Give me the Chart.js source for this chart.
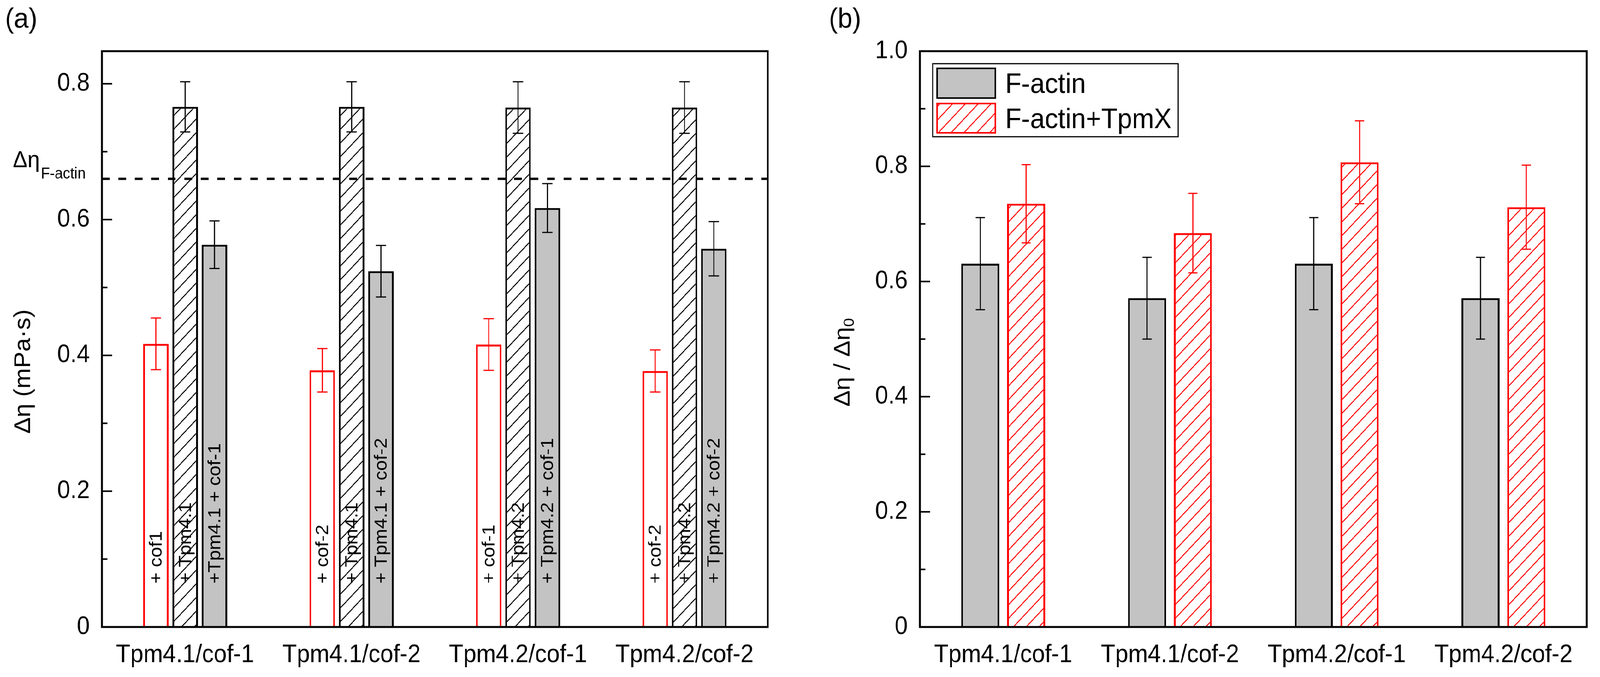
<!DOCTYPE html>
<html>
<head>
<meta charset="utf-8">
<script src="https://cdn.jsdelivr.net/npm/chart.js@4.4.1/dist/chart.umd.min.js"></script>
<style>
  html, body { margin: 0; padding: 0; background: #fff; overflow: hidden; }
  #wrap { position: relative; width: 4366px; height: 1733px; transform-origin: 0 0; }
  #ca { position: absolute; left: 0; top: 0; }
  #cb { position: absolute; left: 2200px; top: 0; }
</style>
</head>
<body>
<div id="wrap">
  <canvas id="ca" width="2200" height="1733"></canvas>
  <canvas id="cb" width="2166" height="1733"></canvas>
</div>
<script>
const FONT = "'Liberation Sans', Arial, sans-serif";

const groups = ["Tpm4.1/cof-1", "Tpm4.1/cof-2", "Tpm4.2/cof-1", "Tpm4.2/cof-2"];

// panel (a): delta eta in mPa.s
const cofOnly = [0.417, 0.378, 0.416, 0.377];
const cofOnlyErr = [0.038, 0.032, 0.038, 0.031];
const tpmOnly = [0.766, 0.766, 0.765, 0.765];
const tpmOnlyErr = [0.037, 0.037, 0.038, 0.038];
const tpmCof = [0.563, 0.524, 0.617, 0.557];
const tpmCofErr = [0.035, 0.038, 0.036, 0.040];
const cofLabels = ["+ cof1", "+ cof-2", "+ cof-1", "+ cof-2"];
const tpmLabels = ["+ Tpm4.1", "+ Tpm4.1", "+ Tpm4.2", "+ Tpm4.2"];
const tpmCofLabels = ["+Tpm4.1 + cof-1", "+ Tpm4.1 + cof-2", "+ Tpm4.2 + cof-1", "+ Tpm4.2 + cof-2"];
const fActinLevel = 0.66;
const maxA = 0.848;

// panel (b): normalised
const fActin = [0.631, 0.571, 0.631, 0.571];
const fActinErr = [0.080, 0.071, 0.080, 0.071];
const fActinTpm = [0.735, 0.684, 0.807, 0.729];
const fActinTpmErr = [0.068, 0.069, 0.072, 0.073];
const legendLabels = ["F-actin", "F-actin+TpmX"];
const maxB = 1.0;

const GRAY = "#c3c3c3";
const RED = "#ff0000";

// the drawing is laid out at 4366 x 1733; stretch it onto the real viewport
const sx = window.innerWidth / 4366;
const sy = window.innerHeight / 1733;
document.getElementById("wrap").style.transform = "scale(" + sx + "," + sy + ")";

function hatch(color, size, lw) {
  const c = document.createElement("canvas");
  c.width = c.height = size;
  const g = c.getContext("2d");
  g.fillStyle = "#fff";
  g.fillRect(0, 0, size, size);
  g.strokeStyle = color;
  g.lineWidth = lw;
  g.beginPath();
  g.moveTo(-1, size + 1); g.lineTo(size + 1, -1);
  g.moveTo(-2, 2); g.lineTo(2, -2);
  g.moveTo(size - 2, size + 2); g.lineTo(size + 2, size - 2);
  g.stroke();
  return g.createPattern(c, "repeat");
}

function tickLabel(v) {
  const k = Math.round(v * 10);
  if (Math.abs(v * 10 - k) > 1e-6 || k % 2) return "";
  return k === 0 ? "0" : (k / 10).toFixed(1);
}

// inward ticks and the closed frame
const frame = {
  id: "frame",
  afterDraw(chart) {
    const { ctx, chartArea: a } = chart;
    const y = chart.scales.y;
    ctx.save();
    ctx.strokeStyle = "#000";
    ctx.lineWidth = 4;
    y.ticks.forEach(t => {
      const k = Math.round(t.value * 10);
      if (Math.abs(t.value * 10 - k) > 1e-6) return;
      const py = y.getPixelForValue(t.value);
      ctx.beginPath();
      ctx.moveTo(a.left, py);
      ctx.lineTo(a.left + (k % 2 ? 15 : 28), py);
      ctx.stroke();
    });
    ctx.lineWidth = 5;
    ctx.strokeRect(a.left, a.top, a.right - a.left, a.bottom - a.top);
    ctx.restore();
  }
};

const errorBars = {
  id: "errorBars",
  afterDatasetsDraw(chart, args, opts) {
    const ctx = chart.ctx;
    const y = chart.scales.y;
    chart.data.datasets.forEach((ds, i) => {
      chart.getDatasetMeta(i).data.forEach((bar, j) => {
        const top = y.getPixelForValue(ds.data[j] + ds.errors[j]);
        const bot = y.getPixelForValue(ds.data[j] - ds.errors[j]);
        const h = opts.cap / 2;
        ctx.save();
        ctx.strokeStyle = ds.errorColor;
        ctx.lineWidth = 3;
        ctx.beginPath();
        ctx.moveTo(bar.x, top); ctx.lineTo(bar.x, bot);
        ctx.moveTo(bar.x - h, top); ctx.lineTo(bar.x + h, top);
        ctx.moveTo(bar.x - h, bot); ctx.lineTo(bar.x + h, bot);
        ctx.stroke();
        ctx.restore();
      });
    });
  }
};

const barText = {
  id: "barText",
  afterDatasetsDraw(chart) {
    const ctx = chart.ctx;
    const base = chart.chartArea.bottom - 111;
    chart.data.datasets.forEach((ds, i) => {
      if (!ds.inBar) return;
      chart.getDatasetMeta(i).data.forEach((bar, j) => {
        ctx.save();
        ctx.translate(bar.x + 2, base);
        ctx.rotate(-Math.PI / 2);
        ctx.fillStyle = "#000";
        ctx.font = "49px " + FONT;
        ctx.textAlign = "left";
        ctx.textBaseline = "middle";
        ctx.fillText(ds.inBar[j], 0, 0);
        ctx.restore();
      });
    });
  }
};

const refLine = {
  id: "refLine",
  afterDatasetsDraw(chart) {
    const { ctx, chartArea: a } = chart;
    const py = chart.scales.y.getPixelForValue(fActinLevel);
    ctx.save();
    ctx.strokeStyle = "#000";
    ctx.lineWidth = 6;
    ctx.setLineDash([21, 24]);
    ctx.beginPath();
    ctx.moveTo(a.left, py);
    ctx.lineTo(a.right, py);
    ctx.stroke();
    ctx.restore();
  }
};

const textA = {
  id: "textA",
  afterDraw(chart) {
    const ctx = chart.ctx;
    ctx.save();
    ctx.fillStyle = "#000";
    ctx.font = "72px " + FONT;
    ctx.fillText("(a)", 14, 71);
    ctx.font = "60px " + FONT;
    ctx.fillText("\u0394\u03b7", 35, 428);
    const w = ctx.measureText("\u0394\u03b7").width;
    ctx.font = "40px " + FONT;
    ctx.fillText("F-actin", 35 + w + 3, 457);
    ctx.translate(82, 951);
    ctx.rotate(-Math.PI / 2);
    ctx.font = "63px " + FONT;
    ctx.textAlign = "center";
    ctx.fillText("\u0394\u03b7 (mPa\u00b7s)", 0, 0);
    ctx.restore();
  }
};

const textB = {
  id: "textB",
  afterDraw(chart) {
    const ctx = chart.ctx;
    ctx.save();
    ctx.fillStyle = "#000";
    ctx.font = "72px " + FONT;
    ctx.fillText("(b)", 62, 71);
    ctx.translate(118, 928);
    ctx.rotate(-Math.PI / 2);
    ctx.font = "62px " + FONT;
    const main = "\u0394\u03b7 / \u0394\u03b7";
    const wm = ctx.measureText(main).width;
    ctx.font = "40px " + FONT;
    const ws = ctx.measureText("0").width;
    const x0 = -(wm + ws) / 2;
    ctx.font = "62px " + FONT;
    ctx.fillText(main, x0, 0);
    ctx.font = "40px " + FONT;
    ctx.fillText("0", x0 + wm + 1, 12);
    ctx.restore();

    // legend
    const ds = chart.data.datasets;
    ctx.save();
    ctx.fillStyle = "#fff";
    ctx.fillRect(345, 163, 670, 187);
    ctx.strokeStyle = "#000";
    ctx.lineWidth = 3;
    ctx.strokeRect(345, 163, 670, 187);
    const rows = [[173, 253], [263, 342]];
    rows.forEach((r, i) => {
      ctx.fillStyle = ds[i].backgroundColor;
      ctx.fillRect(355, r[0], 163, r[1] - r[0]);
      ctx.strokeStyle = ds[i].borderColor;
      ctx.lineWidth = 4;
      ctx.strokeRect(357, r[0] + 2, 159, r[1] - r[0] - 4);
      ctx.fillStyle = "#000";
      ctx.font = "72px " + FONT;
      ctx.fillText(legendLabels[i], 543, (r[0] + r[1]) / 2 + 25);
    });
    ctx.restore();
  }
};

function axes(yWidth, max) {
  return {
    x: {
      type: "category",
      offset: true,
      grid: { display: false, drawTicks: false },
      border: { display: false },
      ticks: { color: "#000", font: { family: FONT, size: 64 }, padding: 34, maxRotation: 0, autoSkip: false },
      afterFit(s) { s.height = 128; }
    },
    y: {
      min: 0,
      max: max,
      grid: { display: false, drawTicks: false },
      border: { display: false },
      ticks: { stepSize: 0.1, includeBounds: false, color: "#000", font: { family: FONT, size: 64 }, padding: 33, callback: tickLabel, autoSkip: false },
      afterFit(s) { s.width = yWidth; }
    }
  };
}

new Chart(document.getElementById("ca"), {
  type: "bar",
  data: {
    labels: groups,
    datasets: [
      { data: cofOnly, errors: cofOnlyErr, errorColor: RED, inBar: cofLabels,
        backgroundColor: "#fff", borderColor: RED, borderWidth: 5 },
      { data: tpmOnly, errors: tpmOnlyErr, errorColor: "#000", inBar: tpmLabels,
        backgroundColor: hatch("#000", 35, 2.6), borderColor: "#000", borderWidth: 5 },
      { data: tpmCof, errors: tpmCofErr, errorColor: "#000", inBar: tpmCofLabels,
        backgroundColor: GRAY, borderColor: "#000", borderWidth: 5 }
    ]
  },
  options: {
    responsive: false,
    animation: false,
    devicePixelRatio: 1,
    categoryPercentage: 0.5283,
    barPercentage: 0.87,
    layout: { padding: { left: 0, top: 131, right: 105, bottom: 0 } },
    plugins: { legend: { display: false }, tooltip: { enabled: false }, errorBars: { cap: 28 } },
    scales: axes(278, maxA)
  },
  plugins: [barText, errorBars, refLine, frame, textA]
});

new Chart(document.getElementById("cb"), {
  type: "bar",
  data: {
    labels: groups,
    datasets: [
      { data: fActin, errors: fActinErr, errorColor: "#000",
        backgroundColor: GRAY, borderColor: "#000", borderWidth: 5 },
      { data: fActinTpm, errors: fActinTpmErr, errorColor: RED,
        backgroundColor: hatch(RED, 35, 2.5), borderColor: RED, borderWidth: 5 }
    ]
  },
  options: {
    responsive: false,
    animation: false,
    devicePixelRatio: 1,
    categoryPercentage: 0.549,
    barPercentage: 0.832,
    layout: { padding: { left: 0, top: 131, right: 36, bottom: 0 } },
    plugins: { legend: { display: false }, tooltip: { enabled: false }, errorBars: { cap: 25 } },
    scales: axes(310, maxB)
  },
  plugins: [errorBars, frame, textB]
});
</script>
</body>
</html>
